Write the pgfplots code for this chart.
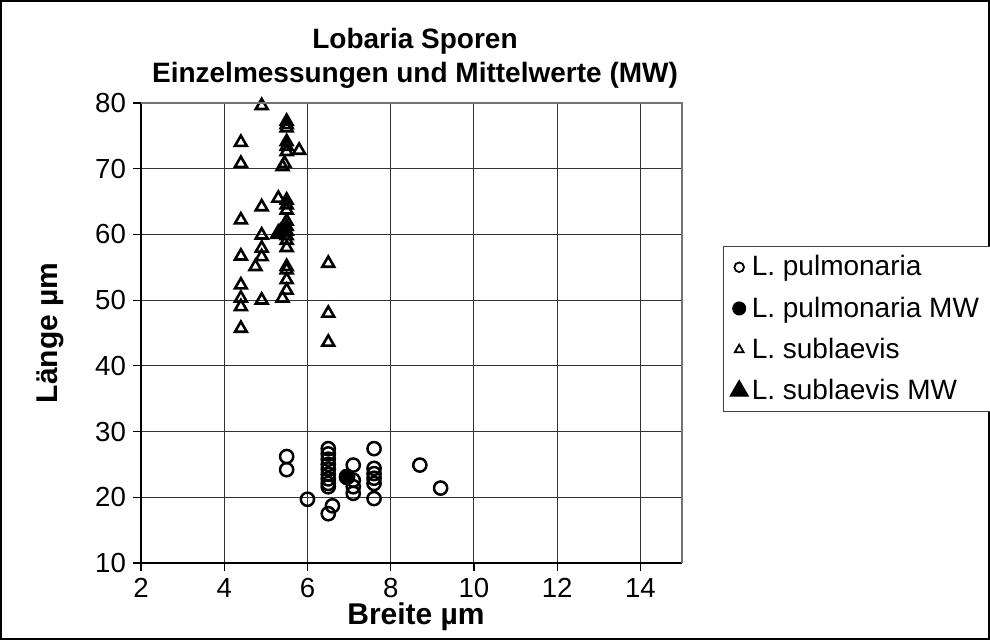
\documentclass[border=0pt]{standalone}
\usepackage{fontspec}
\setmainfont{Liberation Sans}
\usepackage{pgfplots}
\pgfplotsset{compat=1.18}
\begin{document}
\begin{tikzpicture}[x=1pt,y=1pt]
\useasboundingbox (0,0) rectangle (495,320);
\fill[white] (0,0) rectangle (495,320);
\draw[line width=1pt] (0.5,0.5) rectangle (494.5,319.5);
\begin{axis}[
  at={(70.5pt,38.5pt)}, anchor=south west,
  width=270.5pt, height=230pt, scale only axis,
  xmin=2, xmax=15, ymin=10, ymax=80,
  xtick={2,4,...,14}, ytick={10,20,...,80},
  axis x line*=bottom, axis y line*=left,
  axis line style={black, line width=0.6pt, -},
  tick align=outside, major tick length=4pt,
  tick style={black, line width=0.6pt},
  grid=major, major grid style={black!80, line width=0.55pt},
  ticklabel style={font=\fontsize{13.8}{15}\selectfont},
  /pgf/number format/assume math mode=true,
  clip=false,
  legend style={at={(1.0758,0.689)}, anchor=north west, draw=black!75, line width=0.6pt,
    inner xsep=3pt, inner ysep=0pt, font=\fontsize{14}{16}\selectfont,
    nodes={minimum height=20.6pt, inner ysep=0pt, inner xsep=1.5pt}, column sep=0pt},
  legend cell align=left,
  after end axis/.code={\draw[black!55, line width=0.6pt] (rel axis cs:0,1) -- (rel axis cs:1,1) -- (rel axis cs:1,0);},
]
\addplot[only marks, mark=o, mark size=3.3pt, line width=1.25pt,
  legend image code/.code={\draw[line width=0.9pt, mark=o, mark size=2.4pt] plot coordinates {(5pt,0pt)};}]
coordinates {
(5.5,26.2)(5.5,24.2)(6.0,19.7)
(6.5,27.4)(6.5,26.6)(6.5,25.8)(6.5,25.0)(6.5,24.3)(6.5,23.5)(6.5,22.8)(6.5,22.1)(6.5,21.6)
(6.5,17.5)(6.6,18.7)
(7.1,24.9)(7.1,22.6)(7.1,21.6)(7.1,20.6)
(7.6,27.4)(7.6,24.4)(7.6,23.6)(7.6,22.9)(7.6,22.1)(7.6,19.8)
(8.7,24.9)(9.2,21.4)
};
\addlegendentry{\makebox[150pt][l]{L. pulmonaria}}
\addplot[only marks, mark=*, mark size=4pt, black,
  legend image code/.code={\fill[black] (5pt,0pt) circle (3.2pt);}]
coordinates {(6.95,23.1)};
\addlegendentry{\makebox[150pt][l]{L. pulmonaria MW}}
\addplot[only marks, mark=triangle, mark size=3.4pt, line width=1.3pt,
  legend image code/.code={\draw[line width=0.9pt, mark=triangle, mark size=2.5pt] plot coordinates {(5pt,0pt)};}]
coordinates {
(4.4,74.0)(4.4,70.8)(4.4,62.2)(4.4,56.7)(4.4,52.3)(4.4,50.3)(4.4,49.0)(4.4,45.7)
(4.9,79.6)(4.9,64.2)(4.9,59.9)(4.9,57.9)(4.9,56.6)(4.9,50.0)(4.75,55.1)
(5.3,65.5)
(5.5,77.2)(5.5,76.7)(5.5,76.2)(5.5,74.1)(5.5,73.4)(5.5,72.6)(5.45,70.8)(5.4,70.3)
(5.5,65.2)(5.5,64.5)(5.5,63.7)(5.5,62.0)(5.5,61.2)(5.5,60.5)(5.5,59.8)(5.5,59.1)(5.5,58.0)
(5.35,60.5)(5.5,55.1)(5.5,54.6)(5.5,53.1)(5.5,51.5)(5.4,50.3)
(5.8,72.8)
(6.5,55.6)(6.5,48.0)(6.5,43.6)
};
\addlegendentry{\makebox[150pt][l]{L. sublaevis}}
\addplot[only marks, mark=triangle*, mark size=5pt, black,
  legend image code/.code={\fill[black] (5pt,0pt) ++(90:5.2pt) -- ++(-120:9pt) -- ++(0:9pt) -- cycle;}]
coordinates {(5.3,60.1)};
\addlegendentry{\makebox[150pt][l]{L. sublaevis MW}}
\end{axis}
\node[font=\fontsize{14}{16}\selectfont\bfseries] at (207.5,299.5) {Lobaria Sporen};
\node[font=\fontsize{14}{16}\selectfont\bfseries] at (207.5,282.5) {Einzelmessungen und Mittelwerte (MW)};
\node[font=\fontsize{15}{17}\selectfont\bfseries] at (208,11.5) {Breite µm};
\node[font=\fontsize{15}{17}\selectfont\bfseries, rotate=90] at (25,153.5) {Länge µm};
\end{tikzpicture}
\end{document}
